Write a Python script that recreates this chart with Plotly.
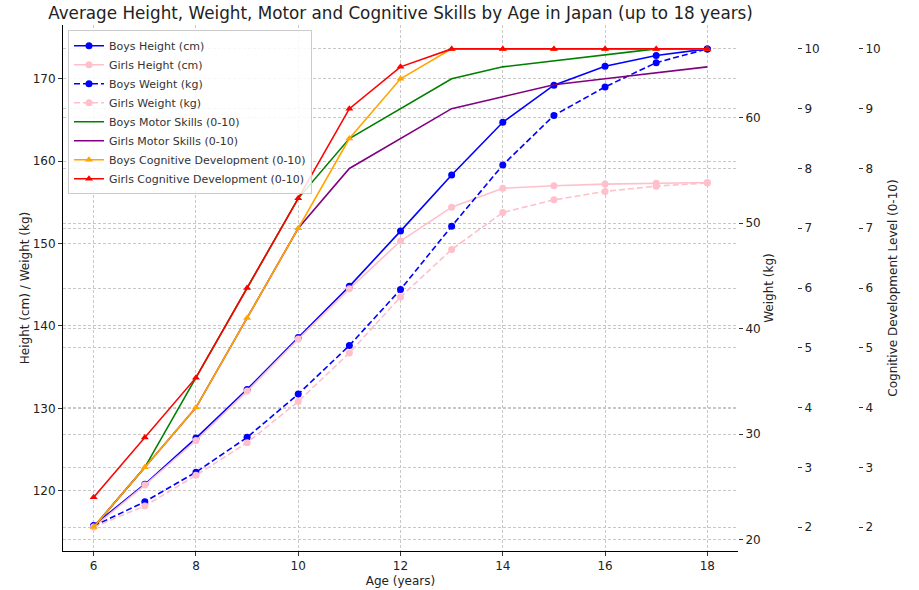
import plotly.graph_objects as go

ages = [6, 7, 8, 9, 10, 11, 12, 13, 14, 15, 16, 17, 18]
boys_height = [115.8, 120.8, 126.4, 132.3, 138.6, 144.8, 151.5, 158.3, 164.7, 169.2, 171.5, 172.8, 173.6]
girls_height = [115.6, 120.7, 126.1, 132.1, 138.4, 144.5, 150.3, 154.4, 156.7, 157.0, 157.2, 157.3, 157.4]
boys_weight = [21.3, 23.6, 26.4, 29.7, 33.8, 38.4, 43.7, 49.7, 55.5, 60.2, 62.9, 65.2, 66.5]
girls_weight = [21.2, 23.2, 26.1, 29.2, 33.1, 37.7, 43.0, 47.5, 51.0, 52.2, 53.0, 53.5, 53.8]
boys_motor = [2.0, 3.0, 4.5, 6.0, 7.5, 8.5, 9.0, 9.5, 9.7, 9.8, 9.9, 10.0, 10.0]
girls_motor = [2.0, 3.0, 4.0, 5.5, 7.0, 8.0, 8.5, 9.0, 9.2, 9.4, 9.5, 9.6, 9.7]
boys_cog = [2.0, 3.0, 4.0, 5.5, 7.0, 8.5, 9.5, 10.0, 10.0, 10.0, 10.0, 10.0, 10.0]
girls_cog = [2.5, 3.5, 4.5, 6.0, 7.5, 9.0, 9.7, 10.0, 10.0, 10.0, 10.0, 10.0, 10.0]

x_ticks = [6, 8, 10, 12, 14, 16, 18]
height_ticks = [120, 130, 140, 150, 160, 170]
weight_ticks = [20, 30, 40, 50, 60]
skill_ticks = [2, 3, 4, 5, 6, 7, 8, 9, 10]


def padded(*series):
    vals = [v for s in series for v in s]
    lo, hi = min(vals), max(vals)
    m = 0.05 * (hi - lo)
    return [lo - m, hi + m]


FONT = "DejaVu Sans"
GRID = dict(showgrid=True, gridcolor="#c8c8c8", griddash="3px,2px", gridwidth=1)
TICK = dict(ticks="outside", ticklen=4, tickcolor="#333", tickfont=dict(size=12, color="#222"),
            automargin=False)

fig = go.Figure()

fig.add_trace(go.Scatter(x=ages, y=boys_height, name="Boys Height (cm)", mode="lines+markers",
                         line=dict(color="#0000ff", width=1.6), marker=dict(symbol="circle", size=7, color="#0000ff"),
                         yaxis="y"))
fig.add_trace(go.Scatter(x=ages, y=girls_height, name="Girls Height (cm)", mode="lines+markers",
                         line=dict(color="#ffc0cb", width=1.6), marker=dict(symbol="circle", size=7, color="#ffc0cb"),
                         yaxis="y"))
fig.add_trace(go.Scatter(x=ages, y=boys_weight, name="Boys Weight (kg)", mode="lines+markers",
                         line=dict(color="#0000ff", width=1.6, dash="6px,3px"),
                         marker=dict(symbol="circle", size=7, color="#0000ff"), yaxis="y2"))
fig.add_trace(go.Scatter(x=ages, y=girls_weight, name="Girls Weight (kg)", mode="lines+markers",
                         line=dict(color="#ffc0cb", width=1.6, dash="6px,3px"),
                         marker=dict(symbol="circle", size=7, color="#ffc0cb"), yaxis="y2"))
fig.add_trace(go.Scatter(x=ages, y=boys_motor, name="Boys Motor Skills (0-10)", mode="lines",
                         line=dict(color="#008000", width=1.6), yaxis="y3"))
fig.add_trace(go.Scatter(x=ages, y=girls_motor, name="Girls Motor Skills (0-10)", mode="lines",
                         line=dict(color="#800080", width=1.6), yaxis="y3"))
fig.add_trace(go.Scatter(x=ages, y=boys_cog, name="Boys Cognitive Development (0-10)", mode="lines+markers",
                         line=dict(color="#ffa500", width=1.6),
                         marker=dict(symbol="triangle-up", size=7, color="#ffa500"), yaxis="y4"))
fig.add_trace(go.Scatter(x=ages, y=girls_cog, name="Girls Cognitive Development (0-10)", mode="lines+markers",
                         line=dict(color="#ff0000", width=1.6),
                         marker=dict(symbol="triangle-up", size=7, color="#ff0000"), yaxis="y4"))

XEND = 0.8123
skill_range = padded(boys_motor, girls_motor, boys_cog, girls_cog)

fig.update_layout(
    width=919, height=590,
    margin=dict(l=63, r=25, t=25, b=39, autoexpand=False),
    paper_bgcolor="white", plot_bgcolor="white",
    font=dict(family=FONT, size=12, color="#222"),
    title=dict(text="Average Height, Weight, Motor and Cognitive Skills by Age in Japan (up to 18 years)",
               x=XEND / 2, xref="paper", xanchor="center", y=0.988, yanchor="top",
               font=dict(size=16.8, color="#222")),
    showlegend=True,
    legend=dict(x=0.006, y=0.99, xanchor="left", yanchor="top",
                bgcolor="rgba(255,255,255,0.85)", bordercolor="#cccccc", borderwidth=1,
                font=dict(size=11, color="#333"), tracegroupgap=0, itemwidth=30),
    xaxis=dict(domain=[0, XEND], range=padded(ages), tickvals=x_ticks, zeroline=False,
               showline=True, linecolor="black", linewidth=1,
               title=dict(text="Age (years)", font=dict(size=12), standoff=4), **GRID, **TICK),
    yaxis=dict(range=padded(boys_height, girls_height), tickvals=height_ticks, zeroline=False,
               showline=True, linecolor="black", linewidth=1,
               title=dict(text="Height (cm) / Weight (kg)", font=dict(size=12), standoff=0), **GRID, **TICK),
    yaxis2=dict(overlaying="y", side="right", anchor="x", range=padded(boys_weight, girls_weight),
                tickvals=weight_ticks, zeroline=False, showline=False,
                title=dict(text="Weight (kg)", font=dict(size=12), standoff=4), **GRID, **TICK),
    yaxis3=dict(overlaying="y", side="right", anchor="free", position=0.8833, range=skill_range,
                tickvals=skill_ticks, zeroline=False, showline=False, **GRID, **TICK),
    yaxis4=dict(overlaying="y", side="right", anchor="free", position=0.9567, range=skill_range,
                tickvals=skill_ticks, zeroline=False, showline=False,
                title=dict(text="Cognitive Development Level (0-10)", font=dict(size=12), standoff=8),
                **GRID, **TICK),
)

fig.write_html("out.html", config={"displayModeBar": False},
               post_script="document.body.style.margin='0';document.body.style.padding='0';")
